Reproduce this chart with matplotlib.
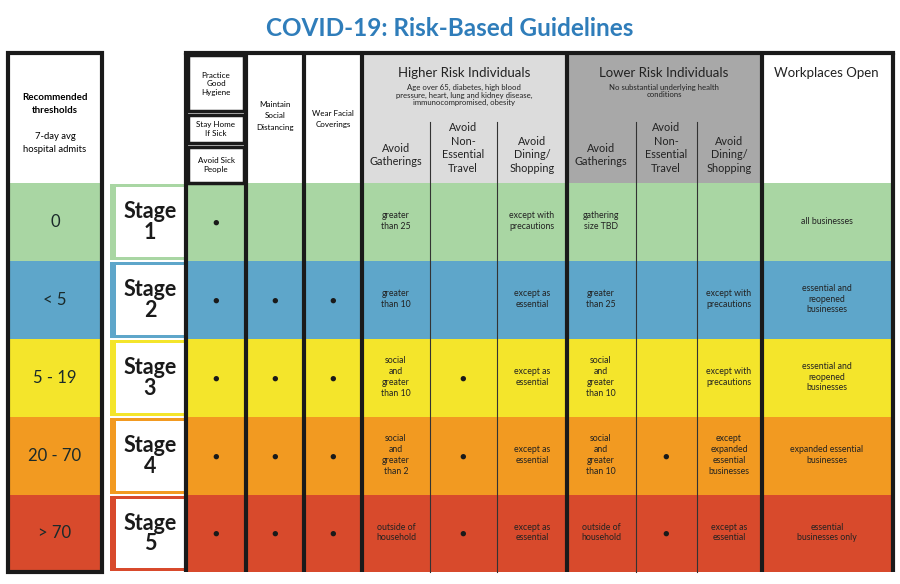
import matplotlib
matplotlib.use("Agg")
import matplotlib.pyplot as plt
from matplotlib.patches import Rectangle

plt.rcParams['font.family'] = ['Lato', 'DejaVu Sans']

title = "COVID-19: Risk-Based Guidelines"
thresholds = ["0", "< 5", "5 - 19", "20 - 70", "> 70"]
stages = ["Stage\n1", "Stage\n2", "Stage\n3", "Stage\n4", "Stage\n5"]
row_colors = ["#a9d6a3", "#5ea6ca", "#f4e52b", "#f29a21", "#d84a2c"]
D = "●"
hygiene = [D, D, D, D, D]
social = ["", D, D, D, D]
masks = ["", D, D, D, D]
hr_gather = ["greater\nthan 25", "greater\nthan 10", "social\nand\ngreater\nthan 10",
             "social\nand\ngreater\nthan 2", "outside of\nhousehold"]
hr_travel = ["", "", D, D, D]
hr_dining = ["except with\nprecautions", "except as\nessential", "except as\nessential",
             "except as\nessential", "except as\nessential"]
lr_gather = ["gathering\nsize TBD", "greater\nthan 25", "social\nand\ngreater\nthan 10",
             "social\nand\ngreater\nthan 10", "outside of\nhousehold"]
lr_travel = ["", "", "", D, D]
lr_dining = ["", "except with\nprecautions", "except with\nprecautions",
             "except\nexpanded\nessential\nbusinesses", "except as\nessential"]
workplaces = ["all businesses", "essential and\nreopened\nbusinesses", "essential and\nreopened\nbusinesses",
              "expanded essential\nbusinesses", "essential\nbusinesses only"]

fig = plt.figure(figsize=(9, 5.84), dpi=100)
ax = fig.add_axes([0, 0, 1, 1])
ax.set_xlim(0, 900); ax.set_ylim(584, 0); ax.axis('off')

ax.text(450, 29, title, ha='center', va='center', fontsize=17.5, fontweight='bold', color='#2f7dba')

top, hb = 53, 183
row_y = [183, 261, 339, 417, 495, 572]
cols = [186, 246, 304, 362, 430, 497, 567, 636, 697, 762, 893]
thick = {186, 246, 304, 362, 567, 762, 893}

ax.add_patch(Rectangle((362, top), 205, hb - top, color='#dcdcdc', lw=0))
ax.add_patch(Rectangle((567, top), 195, hb - top, color='#a8a8a8', lw=0))

for i, c in enumerate(row_colors):
    y0, y1 = row_y[i], row_y[i + 1]
    ax.add_patch(Rectangle((8, y0), 94, y1 - y0, color=c, lw=0))
    ax.add_patch(Rectangle((186, y0), 707, y1 - y0, color=c, lw=0))
    ax.add_patch(Rectangle((110, y0 + 1), 76, y1 - y0 - 2, color=c, lw=0))
    ax.add_patch(Rectangle((116, y0 + 4), 68, y1 - y0 - 8, color='white', lw=0))
    ax.text(55, (y0 + y1) / 2, thresholds[i], ha='center', va='center', fontsize=12, color='#1a2a2a')
    ax.text(150, (y0 + y1) / 2, stages[i], ha='center', va='center', fontsize=15.5,
            fontweight='bold', color='#1a1a1a', linespacing=1.0)

ax.add_patch(Rectangle((8, top), 94, 572 - top, fill=False, lw=3, ec='#1a1a1a'))
ax.text(55, 104, "Recommended\nthresholds", ha='center', va='center', fontsize=7, fontweight='bold', linespacing=1.5)
ax.text(55, 143, "7-day avg\nhospital admits", ha='center', va='center', fontsize=6.8, linespacing=1.5)

for x in cols:
    if x in thick:
        ax.plot([x, x], [top, 572], color='#1a1a1a', lw=3, solid_capstyle='butt')
    else:
        ax.plot([x, x], [122, 572], color='#333333', lw=0.8)
ax.plot([186, 893], [top, top], color='#1a1a1a', lw=3)

for (y0, y1) in [(55, 111), (115, 143), (147, 183)]:
    ax.add_patch(Rectangle((188, y0), 56, y1 - y0, fill=False, lw=2.5, ec='#1a1a1a'))
ax.text(216, 84, "Practice\nGood\nHygiene", ha='center', va='center', fontsize=5.8, linespacing=1.3)
ax.text(216, 129, "Stay Home\nIf Sick", ha='center', va='center', fontsize=5.8, linespacing=1.2)
ax.text(216, 165, "Avoid Sick\nPeople", ha='center', va='center', fontsize=5.8, linespacing=1.3)
ax.text(275, 116, "Maintain\nSocial\nDistancing", ha='center', va='center', fontsize=5.8, linespacing=1.7)
ax.text(333, 119, "Wear Facial\nCoverings", ha='center', va='center', fontsize=5.8, linespacing=1.7)

ax.text(464, 73, "Higher Risk Individuals", ha='center', va='center', fontsize=9.5, color='#222')
ax.text(464, 95, "Age over 65, diabetes, high blood\npressure, heart, lung and kidney disease,\nimmunocompromised, obesity",
        ha='center', va='center', fontsize=5.6, linespacing=1.15, color='#222')
ax.text(664, 73, "Lower Risk Individuals", ha='center', va='center', fontsize=9.5, color='#222')
ax.text(664, 91, "No substantial underlying health\nconditions", ha='center', va='center', fontsize=5.6,
        linespacing=1.15, color='#222')
ax.text(826, 73, "Workplaces Open", ha='center', va='center', fontsize=9.5, color='#222')

sub_heads = [(396, "Avoid\nGatherings"), (463, "Avoid\nNon-\nEssential\nTravel"), (532, "Avoid\nDining/\nShopping"),
             (601, "Avoid\nGatherings"), (666, "Avoid\nNon-\nEssential\nTravel"), (729, "Avoid\nDining/\nShopping")]
for x, t in sub_heads:
    ax.text(x, 148 if t.count("\n") == 3 else 155, t, ha='center', va='center', fontsize=7.8,
            linespacing=1.3, color='#222')

columns = [(216, hygiene), (275, social), (333, masks), (396, hr_gather), (463, hr_travel),
           (532, hr_dining), (601, lr_gather), (666, lr_travel), (729, lr_dining), (827, workplaces)]
for x, vals in columns:
    for i, v in enumerate(vals):
        if not v:
            continue
        yc = (row_y[i] + row_y[i + 1]) / 2
        if v == D:
            ax.text(x, yc, v, ha='center', va='center', fontsize=8, color='#1a1a1a')
        else:
            ax.text(x, yc - 1, v, ha='center', va='center', fontsize=6.3, linespacing=1.25, color='#222')

fig.savefig("out.png", dpi=100)
